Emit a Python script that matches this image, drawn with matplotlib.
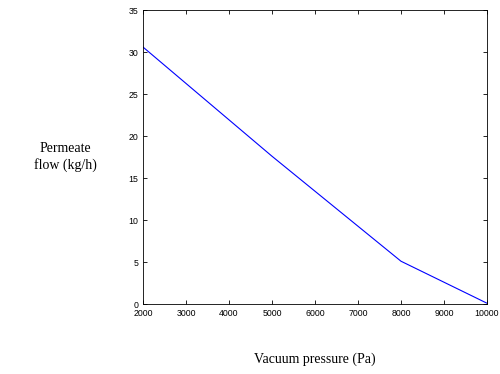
import matplotlib
matplotlib.use("Agg")
from matplotlib import pyplot as plt

pressure = [2000, 5000, 8000, 10000]
flow = [30.6, 17.6, 5.1, 0.1]
xticks = [2000, 3000, 4000, 5000, 6000, 7000, 8000, 9000, 10000]
yticks = [0, 5, 10, 15, 20, 25, 30, 35]

fig = plt.figure(figsize=(5, 3.74), dpi=100)
ax = fig.add_axes([0.286, 0.187, 0.688, 0.786])
ax.plot(pressure, flow, color="#0000ff", linewidth=0.8)
ax.set_xlim(2000, 10000)
ax.set_ylim(0, 35)
ax.set_xticks(xticks)
ax.set_yticks(yticks)
ax.tick_params(direction="in", top=True, right=True, labelsize=6.3, length=3, width=0.6)
for lab in ax.get_xticklabels() + ax.get_yticklabels():
    lab.set_family("Liberation Sans")
for s in ax.spines.values():
    s.set_linewidth(0.6)

fig.text(0.13, 0.58, "Permeate\nflow (kg/h)", ha="center", va="center",
         family="Liberation Serif", fontsize=10, linespacing=1.3)
fig.text(0.63, 0.04, "Vacuum pressure (Pa)", ha="center", va="center",
         family="Liberation Serif", fontsize=10)

fig.savefig("out.png", dpi=100)
